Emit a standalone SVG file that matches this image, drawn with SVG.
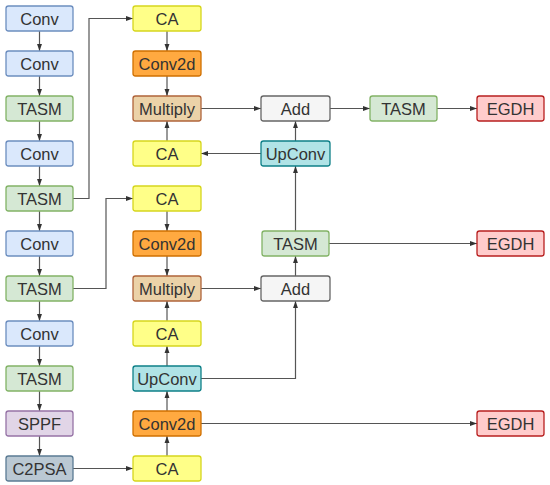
<svg xmlns="http://www.w3.org/2000/svg" width="550" height="485" viewBox="0 0 550 485">
<defs>
<marker id="ah" viewBox="0 0 10 10" refX="10" refY="5" markerWidth="7" markerHeight="7" markerUnits="userSpaceOnUse" orient="auto">
<path d="M0,1.5 L10,5 L0,8.5 z" fill="#333"/>
</marker>
<style>
rect{stroke-width:1.3}
text{font-family:"Liberation Sans",Arial,sans-serif;font-size:16.5px;fill:#333;text-anchor:middle;dominant-baseline:central}
.conv{fill:#dae8fc;stroke:#6c8ebf}
.tasm{fill:#d5e8d4;stroke:#82b366}
.ca{fill:#ffff88;stroke:#d6d61e}
.c2d{fill:#ffa940;stroke:#d07000}
.mul{fill:#ebd2a8;stroke:#b0643a}
.add{fill:#f5f5f5;stroke:#666}
.up{fill:#b0e3e6;stroke:#0e8088}
.egdh{fill:#ffcccc;stroke:#b81f1f}
.sppf{fill:#e1d5e7;stroke:#9673a6}
.psa{fill:#bac8d3;stroke:#5b7b94}
.c path{fill:none;stroke:#555;stroke-width:1.2;marker-end:url(#ah)}
</style>
</defs>
<rect width="550" height="485" fill="#fff"/>
<g class="c">
<path d="M39.5,31 V51"/>
<path d="M39.5,76 V96"/>
<path d="M39.5,121 V141"/>
<path d="M39.5,166 V186"/>
<path d="M39.5,211 V231"/>
<path d="M39.5,256 V276"/>
<path d="M39.5,301 V321"/>
<path d="M39.5,346 V366"/>
<path d="M39.5,391 V411"/>
<path d="M39.5,436 V456"/>
<path d="M73,198.5 H89 V18.5 H133"/>
<path d="M73,288.5 H106 V198.5 H133"/>
<path d="M73,468.5 H133"/>
<path d="M167,31 V51"/>
<path d="M167,76 V96"/>
<path d="M167,141 V121"/>
<path d="M167,211 V231"/>
<path d="M167,256 V276"/>
<path d="M167,321 V301"/>
<path d="M167,366 V346"/>
<path d="M167,411 V391"/>
<path d="M167,456 V436"/>
<path d="M201,108.5 H261"/>
<path d="M330,108.5 H370"/>
<path d="M437,108.5 H477"/>
<path d="M261,153.5 H201"/>
<path d="M295.5,141 V121"/>
<path d="M295.5,231 V166"/>
<path d="M329,243.5 H477"/>
<path d="M201,288.5 H261"/>
<path d="M295.5,276 V256"/>
<path d="M201,378.5 H295.5 V301"/>
<path d="M201,423.5 H477"/>
</g>
<g id="n-conv1"><rect class="conv" x="6" y="6" width="67" height="25" rx="2.5"/><text x="39.5" y="18.5">Conv</text></g>
<g id="n-conv2"><rect class="conv" x="6" y="51" width="67" height="25" rx="2.5"/><text x="39.5" y="63.5">Conv</text></g>
<g id="n-tasm1"><rect class="tasm" x="6" y="96" width="67" height="25" rx="2.5"/><text x="39.5" y="108.5">TASM</text></g>
<g id="n-conv3"><rect class="conv" x="6" y="141" width="67" height="25" rx="2.5"/><text x="39.5" y="153.5">Conv</text></g>
<g id="n-tasm2"><rect class="tasm" x="6" y="186" width="67" height="25" rx="2.5"/><text x="39.5" y="198.5">TASM</text></g>
<g id="n-conv4"><rect class="conv" x="6" y="231" width="67" height="25" rx="2.5"/><text x="39.5" y="243.5">Conv</text></g>
<g id="n-tasm3"><rect class="tasm" x="6" y="276" width="67" height="25" rx="2.5"/><text x="39.5" y="288.5">TASM</text></g>
<g id="n-conv5"><rect class="conv" x="6" y="321" width="67" height="25" rx="2.5"/><text x="39.5" y="333.5">Conv</text></g>
<g id="n-tasm4"><rect class="tasm" x="6" y="366" width="67" height="25" rx="2.5"/><text x="39.5" y="378.5">TASM</text></g>
<g id="n-sppf"><rect class="sppf" x="6" y="411" width="67" height="25" rx="2.5"/><text x="39.5" y="423.5">SPPF</text></g>
<g id="n-c2psa"><rect class="psa" x="6" y="456" width="67" height="25" rx="2.5"/><text x="39.5" y="468.5">C2PSA</text></g>
<g id="n-ca1"><rect class="ca" x="133" y="6" width="68" height="25" rx="2.5"/><text x="167" y="18.5">CA</text></g>
<g id="n-c2d1"><rect class="c2d" x="133" y="51" width="68" height="25" rx="2.5"/><text x="167" y="63.5">Conv2d</text></g>
<g id="n-mul1"><rect class="mul" x="133" y="96" width="68" height="25" rx="2.5"/><text x="167" y="108.5">Multiply</text></g>
<g id="n-ca2"><rect class="ca" x="133" y="141" width="68" height="25" rx="2.5"/><text x="167" y="153.5">CA</text></g>
<g id="n-ca3"><rect class="ca" x="133" y="186" width="68" height="25" rx="2.5"/><text x="167" y="198.5">CA</text></g>
<g id="n-c2d2"><rect class="c2d" x="133" y="231" width="68" height="25" rx="2.5"/><text x="167" y="243.5">Conv2d</text></g>
<g id="n-mul2"><rect class="mul" x="133" y="276" width="68" height="25" rx="2.5"/><text x="167" y="288.5">Multiply</text></g>
<g id="n-ca4"><rect class="ca" x="133" y="321" width="68" height="25" rx="2.5"/><text x="167" y="333.5">CA</text></g>
<g id="n-up2"><rect class="up" x="133" y="366" width="68" height="25" rx="2.5"/><text x="167" y="378.5">UpConv</text></g>
<g id="n-c2d3"><rect class="c2d" x="133" y="411" width="68" height="25" rx="2.5"/><text x="167" y="423.5">Conv2d</text></g>
<g id="n-ca5"><rect class="ca" x="133" y="456" width="68" height="25" rx="2.5"/><text x="167" y="468.5">CA</text></g>
<g id="n-add1"><rect class="add" x="261" y="96" width="69" height="25" rx="2.5"/><text x="295.5" y="108.5">Add</text></g>
<g id="n-up1"><rect class="up" x="261" y="141" width="69" height="25" rx="2.5"/><text x="295.5" y="153.5">UpConv</text></g>
<g id="n-tasm5"><rect class="tasm" x="262" y="231" width="67" height="25" rx="2.5"/><text x="295.5" y="243.5">TASM</text></g>
<g id="n-add2"><rect class="add" x="261" y="276" width="69" height="25" rx="2.5"/><text x="295.5" y="288.5">Add</text></g>
<g id="n-tasm6"><rect class="tasm" x="370" y="96" width="67" height="25" rx="2.5"/><text x="403.5" y="108.5">TASM</text></g>
<g id="n-egdh1"><rect class="egdh" x="477" y="96" width="67" height="25" rx="2.5"/><text x="510.5" y="108.5">EGDH</text></g>
<g id="n-egdh2"><rect class="egdh" x="477" y="231" width="67" height="25" rx="2.5"/><text x="510.5" y="243.5">EGDH</text></g>
<g id="n-egdh3"><rect class="egdh" x="477" y="411" width="67" height="25" rx="2.5"/><text x="510.5" y="423.5">EGDH</text></g>
</svg>
